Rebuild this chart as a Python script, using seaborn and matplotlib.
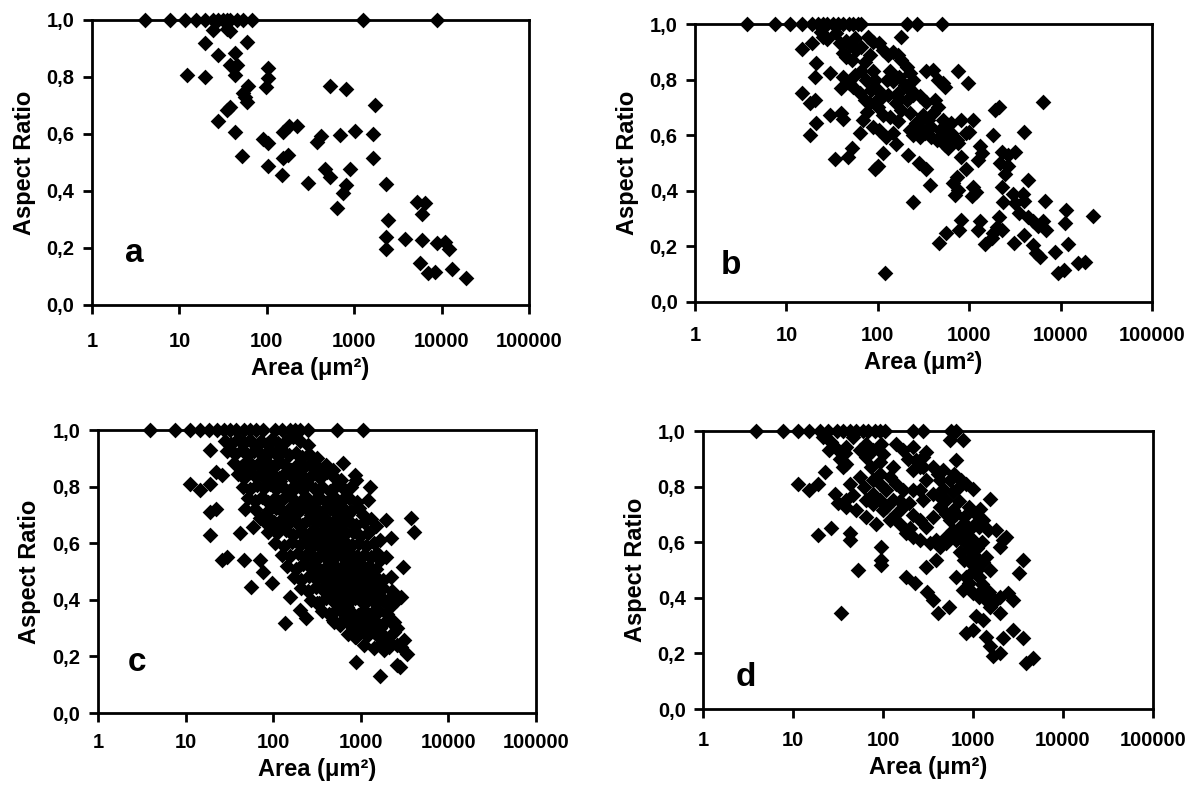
import pandas as pd
import seaborn as sns
import matplotlib.pyplot as plt

# (area in um^2, aspect ratio)
points_a = [
    (4.0, 1.0), (7.8, 1.0), (11.6, 1.0), (15.4, 1.0), (19.6, 1.0), (24, 1.0), (27.5, 1.0),
    (31.5, 1.0), (35, 1.0), (38, 1.0), (45.6, 1.0), (53, 1.0), (67, 1.0), (1250, 1.0), (8800, 1.0),
    (24, 0.965), (38, 0.96), (35, 0.97), (19.6, 0.92), (59, 0.924), (27.5, 0.877), (43, 0.885),
    (38, 0.842), (46, 0.842), (43, 0.807), (12.2, 0.807), (19.6, 0.80), (103, 0.83), (103, 0.796),
    (99, 0.764), (61, 0.768), (53, 0.743), (59, 0.713), (56, 0.73), (38, 0.696), (35, 0.684),
    (27.5, 0.647), (43, 0.608), (52, 0.523), (90, 0.582), (103, 0.57), (152, 0.608), (178, 0.628),
    (220, 0.628), (103, 0.488), (148, 0.456), (152, 0.516), (174, 0.526), (294, 0.429), (372, 0.573),
    (415, 0.593), (525, 0.768), (800, 0.757), (685, 0.596), (1010, 0.612), (1660, 0.60), (1750, 0.702),
    (1660, 0.516), (460, 0.476), (525, 0.45), (890, 0.476), (800, 0.421), (740, 0.392), (630, 0.339),
    (2340, 0.424), (5300, 0.362), (6400, 0.357), (5900, 0.319), (2420, 0.298), (2290, 0.24),
    (2340, 0.196), (3830, 0.23), (5900, 0.228), (8900, 0.217), (10900, 0.222), (12000, 0.196),
    (5600, 0.147), (6900, 0.112), (8300, 0.117), (13000, 0.126), (19000, 0.095),
]

points_b = [
    (3.7, 1.0), (7.5, 1.0), (11, 1.0), (14.7, 1.0), (19, 1.0), (22, 1.0), (25, 1.0), (28, 1.0),
    (32.6, 1.0), (37, 1.0), (42, 1.0), (48, 1.0), (54, 1.0), (61, 1.0), (66, 1.0), (210, 1.0),
    (270, 1.0), (510, 1.0),
    (14.7, 0.91), (19, 0.93), (24, 0.97), (27.5, 0.945), (25, 0.955), (35, 0.966), (39, 0.93),
    (45, 0.94), (50, 0.925), (56, 0.95), (58, 0.905), (42, 0.895), (45, 0.883), (52, 0.87),
    (66, 0.918), (79, 0.954), (89, 0.936), (103, 0.93), (115, 0.905), (129, 0.888), (148, 0.9),
    (165, 0.888), (180, 0.87), (210, 0.846), (82, 0.888), (72, 0.865), (180, 0.954), (225, 0.823),
    (245, 0.8), (215, 0.775), (340, 0.83), (405, 0.835), (460, 0.8), (520, 0.787), (540, 0.775),
    (760, 0.83), (970, 0.787),
    (21, 0.859), (20.5, 0.811), (30, 0.823), (42, 0.811), (48, 0.787), (56, 0.818), (66, 0.83),
    (40, 0.77), (54, 0.775), (64, 0.75), (72, 0.727), (80, 0.715), (14.7, 0.75), (18, 0.715),
    (20.5, 0.727), (30, 0.673), (21, 0.643), (18, 0.6), (40, 0.679), (42, 0.66), (69, 0.655),
    (64, 0.607), (34, 0.514), (47, 0.523), (52, 0.553), (100, 0.49), (93, 0.48), (100, 0.763),
    (108, 0.733), (100, 0.703), (115, 0.673), (93, 0.8), (89, 0.83), (89, 0.63), (103, 0.62),
    (122, 0.595), (115, 0.535), (160, 0.57), (148, 0.607), (165, 0.65), (170, 0.733), (160, 0.715),
    (210, 0.727), (245, 0.745), (215, 0.77), (245, 0.756), (290, 0.74), (340, 0.72), (420, 0.727),
    (460, 0.703), (405, 0.68), (315, 0.673), (355, 0.655), (290, 0.63), (325, 0.607), (245, 0.6),
    (290, 0.595), (385, 0.595), (440, 0.583), (520, 0.655), (590, 0.636), (520, 0.607), (640, 0.607),
    (730, 0.583), (820, 0.655), (1110, 0.655), (1000, 0.613), (540, 0.565), (760, 0.571),
    (820, 0.523), (920, 0.48), (1310, 0.56), (1370, 0.535), (1250, 0.51), (215, 0.53), (280, 0.5),
    (340, 0.48), (370, 0.42), (245, 0.36), (730, 0.45), (670, 0.427), (760, 0.403), (700, 0.385),
    (1110, 0.415), (1200, 0.397), (1060, 0.38), (1900, 0.69), (2100, 0.7), (1830, 0.6), (4000, 0.613),
    (6450, 0.72), (2270, 0.541), (2650, 0.53), (3200, 0.541), (2200, 0.5), (2650, 0.49), (2450, 0.462),
    (4400, 0.44), (2270, 0.415), (3000, 0.39), (3900, 0.39), (2350, 0.36), (3200, 0.355),
    (4000, 0.365), (6800, 0.365), (3500, 0.32), (4400, 0.305), (5000, 0.29), (5700, 0.275),
    (6450, 0.29), (7000, 0.26), (2100, 0.305), (2000, 0.27), (1830, 0.247), (1480, 0.21),
    (1760, 0.23), (2270, 0.26), (1310, 0.29), (1250, 0.26), (820, 0.295), (780, 0.26), (560, 0.247),
    (470, 0.211), (3100, 0.211), (4000, 0.24), (5000, 0.205), (5400, 0.175), (5900, 0.16),
    (8600, 0.18), (11200, 0.283), (11600, 0.33), (12200, 0.21), (15700, 0.139), (18500, 0.145),
    (22800, 0.31), (9400, 0.103), (11000, 0.115), (120, 0.105),
    (75, 0.8), (85, 0.763), (135, 0.83), (125, 0.8), (148, 0.794), (170, 0.81), (200, 0.78),
    (165, 0.75), (129, 0.745), (97, 0.727), (77, 0.685), (135, 0.667), (180, 0.69), (225, 0.68),
    (265, 0.643), (225, 0.62), (385, 0.63), (475, 0.62), (640, 0.643), (560, 0.583), (920, 0.607),
    (590, 0.553),
]

points_c = [
    (3.9, 1.0), (7.5, 1.0), (11.2, 1.0), (14.6, 1.0), (18.5, 1.0), (23, 1.0), (27.5, 1.0), (32, 1.0),
    (38, 1.0), (46, 1.0), (54, 1.0), (64, 1.0), (76, 1.0), (105, 1.0), (125, 1.0), (155, 1.0),
    (178, 1.0), (202, 1.0), (250, 1.0), (530, 1.0), (1050, 1.0),
    (19, 0.929), (11.2, 0.81), (14.6, 0.788), (19, 0.81), (22, 0.853), (26, 0.84), (19, 0.71),
    (22, 0.72), (19, 0.63), (42, 0.635), (26, 0.54), (30, 0.553), (46, 0.54), (48, 0.72),
    (56, 0.447), (71, 0.54), (76, 0.5), (96, 0.458), (138, 0.317), (59, 0.659), (71, 0.69),
    (83, 0.7), (96, 0.665), (155, 0.41), (202, 0.364), (240, 0.335), (315, 0.39), (250, 0.947),
    (630, 0.882), (860, 0.84), (890, 0.823), (1270, 0.8), (1210, 0.753), (1060, 0.7), (1950, 0.682),
    (1500, 0.66), (2230, 0.62), (3780, 0.69), (4090, 0.64), (3000, 0.517), (2900, 0.41),
    (2230, 0.41), (2400, 0.32), (2600, 0.3), (3100, 0.258), (3400, 0.21), (2900, 0.235),
    (2800, 0.164), (2600, 0.17), (1650, 0.13), (890, 0.18), (1850, 0.223), (2150, 0.247),
    (1500, 0.28), (1650, 0.3), (1270, 0.34), (890, 0.27), (1050, 0.29), (820, 0.3), (485, 0.33),
    (630, 0.33), (530, 0.4), (690, 0.375), (820, 0.435), (1270, 0.49), (1650, 0.54), (1950, 0.553),
    (1500, 0.45), (1800, 0.40), (2150, 0.375), (1400, 0.6), (1650, 0.611),
    (28, 0.96), (33, 0.95), (40, 0.97), (47, 0.955), (55, 0.965), (63, 0.945), (72, 0.96), (85, 0.95),
    (98, 0.97), (115, 0.955), (140, 0.96), (170, 0.975), (200, 0.96),
    (30, 0.925), (37, 0.915), (44, 0.93), (52, 0.91), (60, 0.925), (70, 0.92), (80, 0.905),
    (92, 0.93), (108, 0.915), (128, 0.925), (150, 0.91), (180, 0.92), (215, 0.905), (260, 0.915),
    (320, 0.9),
    (36, 0.885), (43, 0.87), (50, 0.89), (58, 0.875), (67, 0.88), (77, 0.865), (88, 0.885),
    (102, 0.87), (118, 0.89), (138, 0.875), (162, 0.86), (190, 0.88), (225, 0.87), (270, 0.885),
    (330, 0.865), (400, 0.875), (480, 0.86),
    (40, 0.845), (47, 0.83), (55, 0.85), (64, 0.835), (74, 0.845), (86, 0.825), (100, 0.84),
    (118, 0.83), (140, 0.85), (165, 0.835), (195, 0.845), (235, 0.825), (280, 0.84), (340, 0.83),
    (410, 0.85), (500, 0.835), (600, 0.825),
    (45, 0.8), (54, 0.79), (66, 0.805), (78, 0.795), (92, 0.81), (108, 0.79), (128, 0.8),
    (150, 0.785), (178, 0.805), (210, 0.795), (250, 0.81), (300, 0.79), (360, 0.8), (440, 0.785),
    (540, 0.805), (650, 0.79), (780, 0.8),
    (52, 0.76), (62, 0.75), (75, 0.765), (88, 0.745), (104, 0.76), (122, 0.75), (145, 0.77),
    (170, 0.755), (200, 0.745), (240, 0.765), (290, 0.75), (345, 0.76), (410, 0.745), (490, 0.765),
    (600, 0.75), (740, 0.76), (900, 0.745),
    (62, 0.72), (88, 0.715), (108, 0.725), (128, 0.71), (152, 0.72), (180, 0.705), (215, 0.725),
    (255, 0.715), (305, 0.72), (365, 0.71), (440, 0.725), (530, 0.705), (640, 0.72), (780, 0.715),
    (950, 0.725),
    (78, 0.68), (102, 0.675), (125, 0.685), (150, 0.67), (180, 0.68), (215, 0.665), (255, 0.685),
    (305, 0.675), (365, 0.68), (435, 0.665), (520, 0.685), (620, 0.67), (740, 0.68), (880, 0.665),
    (1080, 0.675), (1300, 0.685),
    (88, 0.64), (112, 0.635), (140, 0.645), (170, 0.63), (200, 0.64), (240, 0.625), (285, 0.645),
    (340, 0.635), (400, 0.64), (480, 0.63), (570, 0.645), (680, 0.635), (810, 0.64), (980, 0.625),
    (1200, 0.635),
    (105, 0.6), (132, 0.59), (165, 0.605), (200, 0.595), (240, 0.6), (280, 0.585), (330, 0.605),
    (390, 0.595), (460, 0.6), (550, 0.59), (660, 0.605), (790, 0.595), (950, 0.6), (1150, 0.59),
    (125, 0.56), (155, 0.555), (190, 0.565), (230, 0.55), (270, 0.56), (320, 0.545), (380, 0.565),
    (450, 0.555), (530, 0.56), (630, 0.55), (750, 0.565), (900, 0.555), (1080, 0.56), (1300, 0.55),
    (1550, 0.565),
    (145, 0.52), (180, 0.51), (220, 0.525), (265, 0.515), (310, 0.52), (370, 0.505), (440, 0.525),
    (520, 0.515), (620, 0.52), (740, 0.51), (880, 0.525), (1050, 0.515), (1250, 0.52), (1500, 0.51),
    (175, 0.48), (210, 0.47), (260, 0.485), (310, 0.475), (370, 0.48), (440, 0.465), (520, 0.485),
    (620, 0.475), (730, 0.48), (870, 0.47), (1040, 0.485), (1250, 0.475), (1500, 0.48), (1800, 0.47),
    (2200, 0.48),
    (210, 0.44), (250, 0.43), (310, 0.445), (370, 0.435), (440, 0.44), (520, 0.425), (620, 0.445),
    (740, 0.435), (880, 0.44), (1050, 0.43), (1250, 0.445), (1500, 0.435), (1800, 0.44), (2300, 0.43),
    (270, 0.4), (330, 0.39), (400, 0.405), (480, 0.395), (580, 0.4), (700, 0.385), (850, 0.405),
    (1000, 0.395), (1200, 0.4), (1450, 0.39), (1750, 0.405), (2100, 0.395), (2600, 0.4),
    (360, 0.36), (430, 0.35), (520, 0.365), (630, 0.355), (760, 0.36), (920, 0.345), (1100, 0.365),
    (1350, 0.355), (1600, 0.36), (2000, 0.35),
    (500, 0.32), (580, 0.31), (700, 0.325), (850, 0.315), (1000, 0.32), (1200, 0.31), (1450, 0.325),
    (1800, 0.315), (2200, 0.32),
    (720, 0.28), (850, 0.27), (1000, 0.285), (1200, 0.275), (1500, 0.28), (1900, 0.27), (2400, 0.285),
    (1100, 0.24), (1400, 0.23), (1700, 0.245), (2100, 0.235), (2600, 0.24),
    # extra points in the densest part of the cloud
    (160, 0.70), (230, 0.74), (330, 0.70), (420, 0.66), (280, 0.62), (500, 0.62), (360, 0.58),
    (600, 0.58), (420, 0.54), (700, 0.54), (560, 0.50), (820, 0.50), (680, 0.46), (960, 0.46),
    (240, 0.82), (160, 0.78), (300, 0.86), (120, 0.82), (90, 0.86), (200, 0.66), (130, 0.66),
    (110, 0.74), (190, 0.73), (270, 0.70), (390, 0.69), (480, 0.73), (560, 0.66), (700, 0.70),
    (330, 0.62), (450, 0.61), (600, 0.62), (260, 0.57), (500, 0.57), (700, 0.58), (300, 0.50),
    (470, 0.50), (650, 0.50), (950, 0.53), (380, 0.45), (560, 0.45), (800, 0.46), (1150, 0.46),
    (640, 0.41), (920, 0.41), (1300, 0.42), (790, 0.34), (1150, 0.34), (950, 0.30), (1300, 0.29),
]

points_d = [
    (3.9, 1.0), (7.7, 1.0), (11.4, 1.0), (15, 1.0), (20, 1.0), (24.5, 1.0), (30.5, 1.0), (36, 1.0),
    (42.5, 1.0), (50, 1.0), (60, 1.0), (68, 1.0), (81, 1.0), (93, 1.0), (105, 1.0), (215, 1.0),
    (278, 1.0), (570, 1.0), (650, 1.0),
    (11.4, 0.81), (15, 0.787), (19, 0.81), (22.5, 0.853), (19, 0.626), (26.5, 0.65), (42.5, 0.632),
    (42.5, 0.608), (34, 0.347), (53, 0.5), (96, 0.584), (96, 0.536), (96, 0.518), (118, 0.679),
    (65, 0.69), (84, 0.667), (29, 0.775), (31.5, 0.74), (39, 0.751), (42.5, 0.81), (46, 0.77),
    (26.5, 0.96), (30.5, 0.937), (37.5, 0.92), (39, 0.883), (36, 0.87), (55, 0.93), (65, 0.907),
    (74, 0.87), (92, 0.89), (100, 0.919), (96, 0.955), (118, 0.835), (140, 0.81), (167, 0.787),
    (195, 0.74), (153, 0.75), (55, 0.835), (62, 0.8), (77, 0.775), (92, 0.751), (109, 0.727),
    (140, 0.955), (167, 0.931), (188, 0.9), (215, 0.859), (255, 0.87), (300, 0.925), (359, 0.87),
    (405, 0.847), (464, 0.859), (550, 0.823), (620, 0.847), (730, 0.823), (840, 0.81), (1000, 0.793),
    (1550, 0.757), (215, 0.697), (255, 0.68), (300, 0.655), (359, 0.69), (428, 0.727), (359, 0.775),
    (428, 0.763), (505, 0.751), (600, 0.715), (200, 0.65), (215, 0.62), (255, 0.608), (330, 0.596),
    (390, 0.608), (505, 0.596), (600, 0.644), (650, 0.608), (710, 0.566), (800, 0.536), (900, 0.572),
    (1000, 0.608), (900, 0.727), (1070, 0.703), (1290, 0.679), (1160, 0.656), (1450, 0.644),
    (1800, 0.644), (2150, 0.608), (2330, 0.62), (1980, 0.584), (3590, 0.536), (3250, 0.488),
    (1550, 0.5), (1160, 0.476), (1000, 0.518), (840, 0.476), (650, 0.476), (900, 0.452), (774, 0.428),
    (1000, 0.416), (1160, 0.404), (1390, 0.392), (1980, 0.404), (2470, 0.416), (2780, 0.392),
    (1980, 0.344), (1550, 0.368), (1290, 0.321), (1080, 0.333), (840, 0.273), (1000, 0.285),
    (1390, 0.26), (1550, 0.225), (1980, 0.2), (1670, 0.189), (2150, 0.255), (2780, 0.285),
    (3590, 0.255), (3900, 0.165), (4640, 0.183), (180, 0.476), (225, 0.452), (300, 0.512),
    (390, 0.536), (310, 0.422), (359, 0.392), (405, 0.344), (540, 0.368), (428, 0.584), (505, 0.62),
    (278, 0.751), (255, 0.787), (215, 0.787), (278, 0.87), (300, 0.823), (428, 0.823), (464, 0.793),
    (1000, 0.548), (1160, 0.536), (1390, 0.548), (774, 0.632), (840, 0.596), (710, 0.656),
    (650, 0.895), (550, 0.966), (774, 0.966), (77, 0.823), (92, 0.811), (109, 0.787), (129, 0.751),
    (140, 0.703), (167, 0.727), (65, 0.955), (77, 0.931), (46, 0.978), (39, 0.943), (33, 0.9),
    (21.5, 0.978), (25, 0.931), (215, 0.943), (235, 0.895), (278, 0.907), (92, 0.847), (129, 0.87),
    (77, 0.739), (65, 0.751), (100, 0.715), (50, 0.715), (39, 0.727), (153, 0.667), (180, 0.632),
    (500, 0.70), (560, 0.68), (640, 0.70), (700, 0.75), (800, 0.69), (900, 0.62), (1100, 0.58),
    (1250, 0.6), (1300, 0.53), (1100, 0.5), (950, 0.49), (1250, 0.45), (1500, 0.42), (1750, 0.39),
    (1300, 0.43), (600, 0.78), (700, 0.8), (1200, 0.72), (850, 0.66), (1000, 0.66),
]

x_ticks = [1, 10, 100, 1000, 10000, 100000]
x_tick_labels = ['1', '10', '100', '1000', '10000', '100000']
y_ticks = [0.0, 0.2, 0.4, 0.6, 0.8, 1.0]
y_tick_labels = ['0,0', '0,2', '0,4', '0,6', '0,8', '1,0']
panel_letters = ['a', 'b', 'c', 'd']

sns.set_theme(style='ticks')
plt.rcParams['font.family'] = ['Liberation Sans', 'DejaVu Sans']
plt.rcParams['font.weight'] = 'bold'
plt.rcParams['text.color'] = 'black'
plt.rcParams['axes.labelcolor'] = 'black'
plt.rcParams['xtick.color'] = 'black'
plt.rcParams['ytick.color'] = 'black'

fig = plt.figure(figsize=(11.96, 7.87), dpi=100)

# axes boxes in figure fractions, letter spots in axes fractions, x tick label pads
boxes = [
    [0.0769, 0.6125, 0.3654, 0.3621],
    [0.5811, 0.6163, 0.3821, 0.3532],
    [0.0819, 0.0940, 0.3662, 0.3596],
    [0.5878, 0.0991, 0.3763, 0.3532],
]
letter_spots = [(0.098, 0.18), (0.079, 0.13), (0.089, 0.177), (0.096, 0.115)]
x_pads = [13, 11, 8, 9.5]


def draw_panel(box, points, letter, spot, xpad):
    ax = fig.add_axes(box)
    df = pd.DataFrame(points, columns=['area', 'ratio'])
    sns.scatterplot(data=df, x='area', y='ratio', ax=ax, marker='D', color='black',
                    s=64, linewidth=0, clip_on=False, zorder=3)
    ax.set_xscale('log')
    ax.set_xlim(1, 100000)
    ax.set_ylim(0, 1)
    ax.set_xticks(x_ticks)
    ax.set_xticklabels(x_tick_labels)
    ax.set_yticks(y_ticks)
    ax.set_yticklabels(y_tick_labels)
    ax.minorticks_off()
    for sp in ax.spines.values():
        sp.set_linewidth(2)
        sp.set_color('black')
        sp.set_visible(True)
    ax.tick_params(axis='both', direction='out', length=6.5, width=2, colors='black', labelsize=14.5)
    ax.tick_params(axis='x', pad=xpad)
    ax.tick_params(axis='y', pad=6)
    for lab in ax.get_xticklabels() + ax.get_yticklabels():
        lab.set_fontweight('bold')
    ax.set_xlabel('Area (μm²)', fontsize=17, fontweight='bold', labelpad=4)
    ax.set_ylabel('Aspect Ratio', fontsize=17, fontweight='bold', labelpad=8)
    ax.text(spot[0], spot[1], letter, transform=ax.transAxes, fontsize=24,
            fontweight='bold', ha='center', va='center')
    return ax


all_points = [points_a, points_b, points_c, points_d]
for box, pts, letter, spot, xpad in zip(boxes, all_points, panel_letters, letter_spots, x_pads):
    draw_panel(box, pts, letter, spot, xpad)

plt.savefig('out.png', dpi=100)
